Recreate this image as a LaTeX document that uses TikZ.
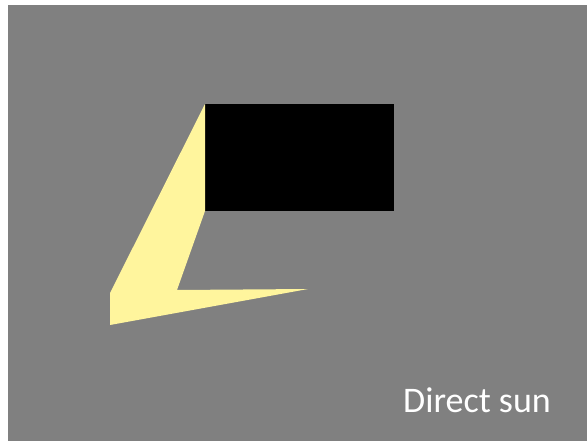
\documentclass[tikz,border=0pt]{standalone}
\usepackage{fontspec}
\setmainfont{Carlito}
\definecolor{bggray}{RGB}{128,128,128}
\definecolor{sunyellow}{RGB}{255,245,157}
\begin{document}
\begin{tikzpicture}[x=1pt,y=-1pt,
  label/.style={text=white,font=\fontsize{36}{40}\selectfont,inner sep=0pt,anchor=base west}]
\useasboundingbox (0,0) rectangle (587,445);
\fill[white] (0,0) rectangle (587,445);
\fill[bggray] (8,5) rectangle (587,441);
% building
\coordinate (bTL) at (205,104);
\coordinate (bBR) at (394,211);
\coordinate (bBL) at (205,211);
\fill[black] (bTL) rectangle (bBR);
% sunlit patch
\fill[sunyellow] (bTL) -- (110,293) -- (110,325) -- (308,289) -- (177,290) -- (bBL) -- cycle;
\node[label] (txt) at (403,412) {Direct sun};
\end{tikzpicture}
\end{document}
